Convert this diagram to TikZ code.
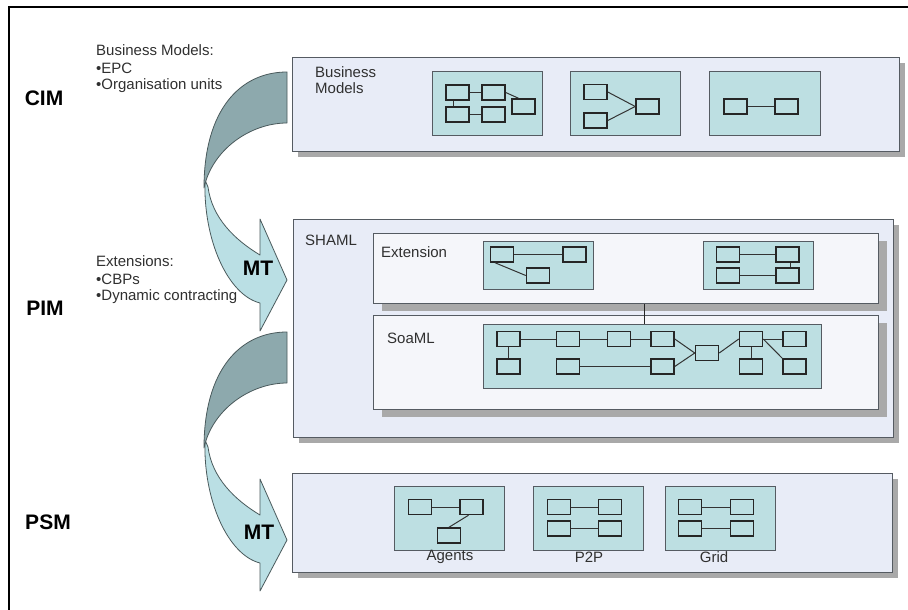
\documentclass[tikz,border=0pt]{standalone}
\usepackage{fontspec}
\setmainfont{Liberation Sans}
\usetikzlibrary{calc,shadows}
\definecolor{lav}{HTML}{E8ECF7}
\definecolor{lavlight}{HTML}{F5F6FA}
\definecolor{teal}{HTML}{BDDFE2}
\definecolor{boxline}{HTML}{555B62}
\definecolor{shadowc}{HTML}{A9A9A9}
\definecolor{darkarrow}{HTML}{8DA9AD}
\definecolor{lightarrow}{HTML}{BADFE4}
\definecolor{arrowline}{HTML}{4A5A5C}
\definecolor{txt}{HTML}{303030}
\tikzset{
  bigbox/.style={draw=boxline, fill=lav, line width=1.1pt, inner sep=0pt, anchor=north west,
    drop shadow={shadow xshift=5pt, shadow yshift=-5pt, fill=shadowc, opacity=1}},
  subbox/.style={draw=boxline, fill=lavlight, line width=1.1pt, inner sep=0pt, anchor=north west,
    drop shadow={shadow xshift=8pt, shadow yshift=-7pt, fill=shadowc, opacity=1}},
  tealbox/.style={draw=boxline, fill=teal, line width=1.1pt, inner sep=0pt, anchor=north west},
  sr/.style={draw=black!85, fill=teal, line width=1.5pt, minimum width=23pt, minimum height=15pt, inner sep=0pt},
  link/.style={draw=black!80, line width=1pt},
  lbl/.style={font=\fontsize{15}{18}\selectfont, text=txt, inner sep=0pt},
  big/.style={font=\fontsize{21}{24}\selectfont\bfseries, text=black, inner sep=0pt},
  arrowdark/.style={fill=darkarrow, draw=arrowline, line width=0.8pt, line join=round},
  arrowlight/.style={fill=lightarrow, draw=arrowline, line width=0.8pt, line join=round}
}
\begin{document}
\begin{tikzpicture}[x=1pt,y=-1pt]
\useasboundingbox (0,0) rectangle (908,610);
\fill[white] (0,0) rectangle (908,610);
% frame
\draw[line width=2.7pt] (9,610) -- (9,7) -- (908,7);

% level labels
\node[big] (cim) at (44,98) {CIM};
\node[big] (pim) at (45,308) {PIM};
\node[big] (psm) at (48,522) {PSM};

\node[lbl, anchor=west] (bm1) at (96,50) {Business Models:};
\node[lbl, anchor=west] (bm2) at (96,68) {•EPC};
\node[lbl, anchor=west] (bm3) at (96,86) {•Organisation units};
\node[lbl, anchor=west] (ex1) at (96,261) {Extensions:};
\node[lbl, anchor=west] (ex2) at (96,279) {•CBPs};
\node[lbl, anchor=west] (ex3) at (96,297) {•Dynamic contracting};

% big boxes
\node[bigbox, minimum width=607pt, minimum height=94pt] (cimbox) at (292,57) {};
\node[bigbox, minimum width=600pt, minimum height=218pt] (pimbox) at (293,219) {};
\node[bigbox, minimum width=600pt, minimum height=99pt] (psmbox) at (292,473) {};

% arrows
\foreach \dy in {0, 260}{
\begin{scope}[yshift=-\dy pt]
\path[arrowlight] (205,180) .. controls (203,240) and (228,295) .. (260,303)
  -- (260,331) -- (287,280) -- (260,219) -- (260,255)
  .. controls (235,240) and (212,218) .. (208,187) -- cycle;
\path[arrowdark] (287,72) .. controls (240,72) and (204,110) .. (204,188)
  .. controls (212,150) and (250,123) .. (287,123) -- cycle;
\end{scope}
}
\node[big] (mt1) at (258,268) {MT};
\node[big] (mt2) at (259,532) {MT};

% CIM content
\node[lbl, anchor=west] (bmodels1) at (315,72) {Business};
\node[lbl, anchor=west] (bmodels2) at (315,88) {Models};
\node[tealbox, minimum width=110pt, minimum height=64pt] (cb1) at (432,71) {};
\node[tealbox, minimum width=110pt, minimum height=64pt] (cb2) at (570,71) {};
\node[tealbox, minimum width=111pt, minimum height=64pt] (cb3) at (709,71) {};
\node[sr] (k1) at (457.5,92.5) {};
\node[sr] (k2) at (493.5,92.5) {};
\node[sr] (k3) at (457.5,114.5) {};
\node[sr] (k4) at (493.5,114.5) {};
\node[sr] (k5) at (523.5,106.5) {};
\draw[link] (k1) -- (k2);
\draw[link] (k3) -- (k4);
\draw[link] ([xshift=-4pt]k1.south) -- ([xshift=-4pt]k3.north);
\draw[link] (k2.east) -- ([xshift=-5pt]k5.north);
\node[sr] (m1) at (595.5,92) {};
\node[sr] (m2) at (595.5,120.5) {};
\node[sr] (m3) at (647.5,106.5) {};
\draw[link] (m1.east) -- (m3.west);
\draw[link] (m2.east) -- (m3.west);
\node[sr] (n1) at (735.5,106.5) {};
\node[sr] (n2) at (786.5,106.5) {};
\draw[link] (n1) -- (n2);

% PIM content
\node[lbl, anchor=west] (shaml) at (305,240) {SHAML};
\node[subbox, minimum width=505pt, minimum height=70pt] (ext) at (373,233) {};
\node[subbox, minimum width=505pt, minimum height=94pt] (soa) at (373,315) {};
\node[lbl, anchor=west] (extl) at (381,252) {Extension};
\node[lbl, anchor=west] (soal) at (387,338) {SoaML};
\node[tealbox, minimum width=110pt, minimum height=48pt] (ea) at (483,241) {};
\node[tealbox, minimum width=110pt, minimum height=48pt] (eb) at (703,241) {};
\node[tealbox, minimum width=338pt, minimum height=64pt] (soain) at (483,324) {};
\draw[line width=1.5pt, black!85] ([xshift=18.5pt]ext.south) -- ([xshift=18.5pt]ext.south |- soain.north);
\node[sr] (e1) at (502,254.5) {};
\node[sr] (e2) at (574.5,254.5) {};
\node[sr] (e3) at (538,275.5) {};
\draw[link] (e1) -- (e2);
\draw[link] ([xshift=-7pt]e1.south) -- (e3.west);
\node[sr] (f1) at (728,254.5) {};
\node[sr] (f2) at (787.5,254.5) {};
\node[sr] (f3) at (728,275.5) {};
\node[sr] (f4) at (787.5,275.5) {};
\draw[link] (f1) -- (f2);
\draw[link] (f3) -- (f4);
\draw[link] ([xshift=3pt]f2.south) -- ([xshift=3pt]f4.north);
% SoaML rects
\node[sr] (s11) at (508.5,339) {};
\node[sr] (s21) at (568,339) {};
\node[sr] (s31) at (619,339) {};
\node[sr] (s41) at (662.5,339) {};
\node[sr] (s61) at (751,339) {};
\node[sr] (s71) at (794.5,339) {};
\node[sr] (s12) at (508.5,366.5) {};
\node[sr] (s22) at (568,366.5) {};
\node[sr] (s42) at (662.5,366.5) {};
\node[sr] (s62) at (751,366.5) {};
\node[sr] (s72) at (794.5,366.5) {};
\node[sr] (s5) at (707,353) {};
\draw[link] (s11) -- (s21);
\draw[link] (s21) -- (s31);
\draw[link] (s31) -- (s41);
\draw[link] (s11) -- (s12);
\draw[link] (s22) -- (s42);
\draw[link] (s41.east) -- (s5.west);
\draw[link] (s42.east) -- (s5.west);
\draw[link] (s5.east) -- (s61.west);
\draw[link] (s61) -- (s71);
\draw[link] (s61) -- (s62);
\draw[link] (s61.east) -- (s72.north west);

% PSM content
\node[tealbox, minimum width=110pt, minimum height=64pt] (ag) at (394,486) {};
\node[tealbox, minimum width=110pt, minimum height=64pt] (pp) at (533,486) {};
\node[tealbox, minimum width=110pt, minimum height=64pt] (gr) at (665,486) {};
\node[lbl] (agl) at (450,557) {Agents};
\node[lbl] (ppl) at (589,557) {P2P};
\node[lbl] (grl) at (714,557) {Grid};
\node[sr] (a1) at (420,507) {};
\node[sr] (a2) at (471.5,507) {};
\node[sr] (a3) at (449,535.5) {};
\draw[link] (a1) -- (a2);
\draw[link] ([xshift=-3pt]a2.south) -- (a3.north);
\node[sr] (p1) at (559,507) {};
\node[sr] (p2) at (610,507) {};
\node[sr] (p3) at (559,528.5) {};
\node[sr] (p4) at (610,528.5) {};
\draw[link] (p1) -- (p2);
\draw[link] (p3) -- (p4);
\node[sr] (g1) at (690,507) {};
\node[sr] (g2) at (742,507) {};
\node[sr] (g3) at (690,528.5) {};
\node[sr] (g4) at (742,528.5) {};
\draw[link] (g1) -- (g2);
\draw[link] (g3) -- (g4);
\end{tikzpicture}
\end{document}
